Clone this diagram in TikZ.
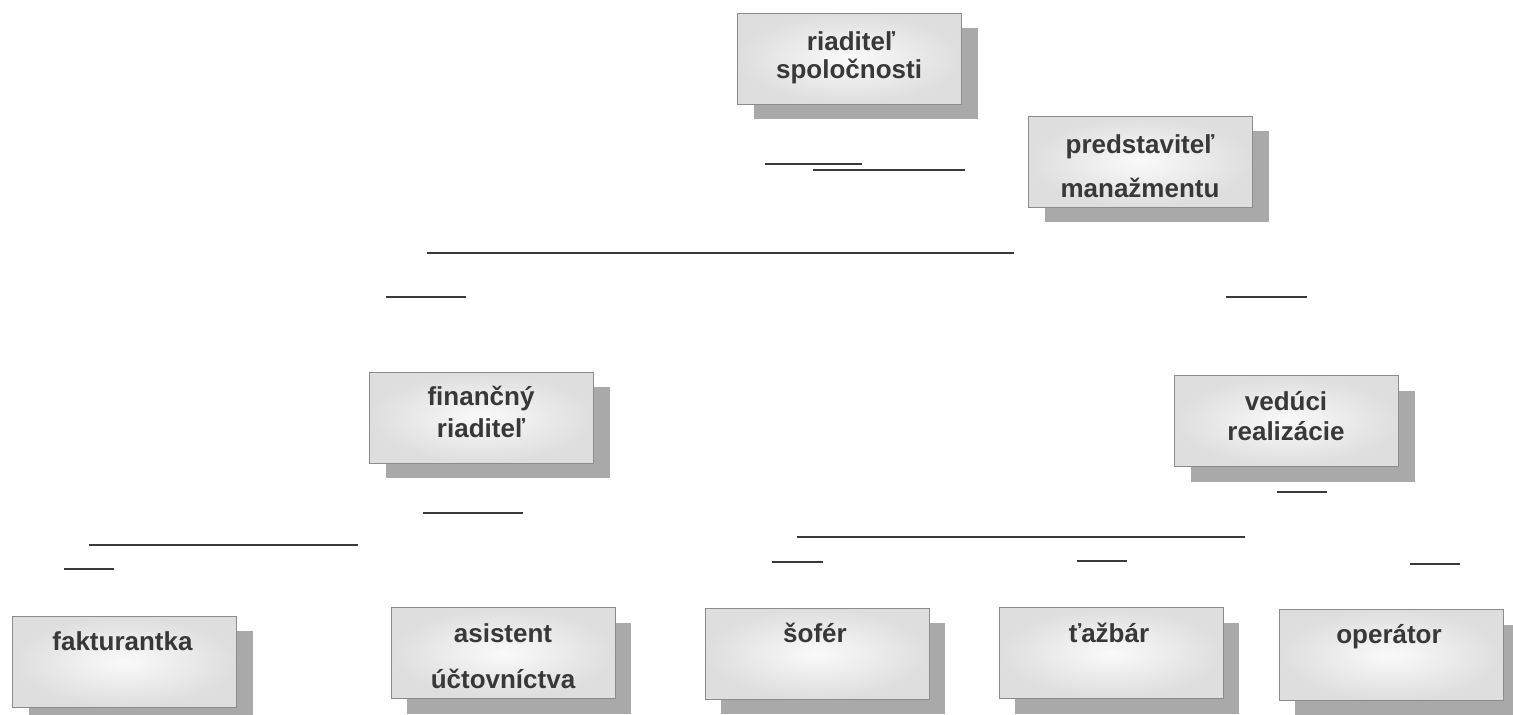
\documentclass[tikz,border=0pt]{standalone}
\usepackage{fontspec}
\setmainfont{Liberation Sans}
\usetikzlibrary{shadows}
\definecolor{txtgray}{HTML}{383838}
\definecolor{shadowgray}{HTML}{A9A9A9}
\definecolor{linegray}{HTML}{3A3A3A}
\definecolor{bordergray}{HTML}{8C8C8C}
\tikzset{
  box/.style={rectangle, minimum width=112pt, minimum height=45.5pt, inner sep=0pt,
    draw=bordergray, line width=0.5pt, inner color=black!2, outer color=black!13,
    drop shadow={shadow xshift=8pt, shadow yshift=-7.5pt, fill=shadowgray, opacity=1}},
  txt/.style={anchor=base, inner sep=0pt, font=\fontsize{13pt}{15pt}\selectfont\bfseries, text=txtgray},
  seg/.style={draw=linegray, line width=1pt}
}
\begin{document}
\begin{tikzpicture}[x=0.5pt,y=-0.5pt]
\useasboundingbox[fill=white] (0,0) rectangle (1513,714);
% boxes
\node[box] (b1) at (849.5,58.5) {};
\node[box] (b2) at (1140.5,161.5) {};
\node[box] (b3) at (481.5,417.5) {};
\node[box] (b4) at (1286.5,421) {};
\node[box] (b5) at (124.5,661.5) {};
\node[box] (b6) at (503,653) {};
\node[box] (b7) at (817,653.5) {};
\node[box] (b8) at (1111,653) {};
\node[box] (b9) at (1391,655) {};
% texts
\node[txt] (t1a) at (851,50) {riaditeľ};
\node[txt] (t1b) at (849,78) {spoločnosti};
\node[txt] (t2a) at (1140,153) {predstaviteľ};
\node[txt] (t2b) at (1140,197) {manažmentu};
\node[txt] (t3a) at (481,405) {finančný};
\node[txt] (t3b) at (481,437) {riaditeľ};
\node[txt] (t4a) at (1286,410) {vedúci};
\node[txt] (t4b) at (1286,440) {realizácie};
\node[txt] (t5) at (122.5,650) {fakturantka};
\node[txt] (t6a) at (503,642) {asistent};
\node[txt] (t6b) at (503,688) {účtovníctva};
\node[txt] (t7) at (815,642) {šofér};
\node[txt] (t8) at (1109,642) {ťažbár};
\node[txt] (t9) at (1389,643) {operátor};
% connector fragments
\coordinate (l1a) at (765,164); \coordinate (l1b) at (862,164);
\coordinate (l2a) at (813,170); \coordinate (l2b) at (965,170);
\coordinate (l3a) at (427,253); \coordinate (l3b) at (1014,253);
\coordinate (l4a) at (386,297); \coordinate (l4b) at (466,297);
\coordinate (l5a) at (1226,297); \coordinate (l5b) at (1307,297);
\coordinate (l6a) at (1277,492); \coordinate (l6b) at (1327,492);
\coordinate (l7a) at (423,513); \coordinate (l7b) at (523,513);
\coordinate (l8a) at (797,537); \coordinate (l8b) at (1245,537);
\coordinate (l9a) at (89,545); \coordinate (l9b) at (358,545);
\coordinate (l10a) at (64,569); \coordinate (l10b) at (114,569);
\coordinate (l11a) at (772,562); \coordinate (l11b) at (823,562);
\coordinate (l12a) at (1077,561); \coordinate (l12b) at (1127,561);
\coordinate (l13a) at (1410,564); \coordinate (l13b) at (1460,564);
\foreach \i in {1,...,13} { \draw[seg] (l\i a) -- (l\i b); }
\end{tikzpicture}
\end{document}
